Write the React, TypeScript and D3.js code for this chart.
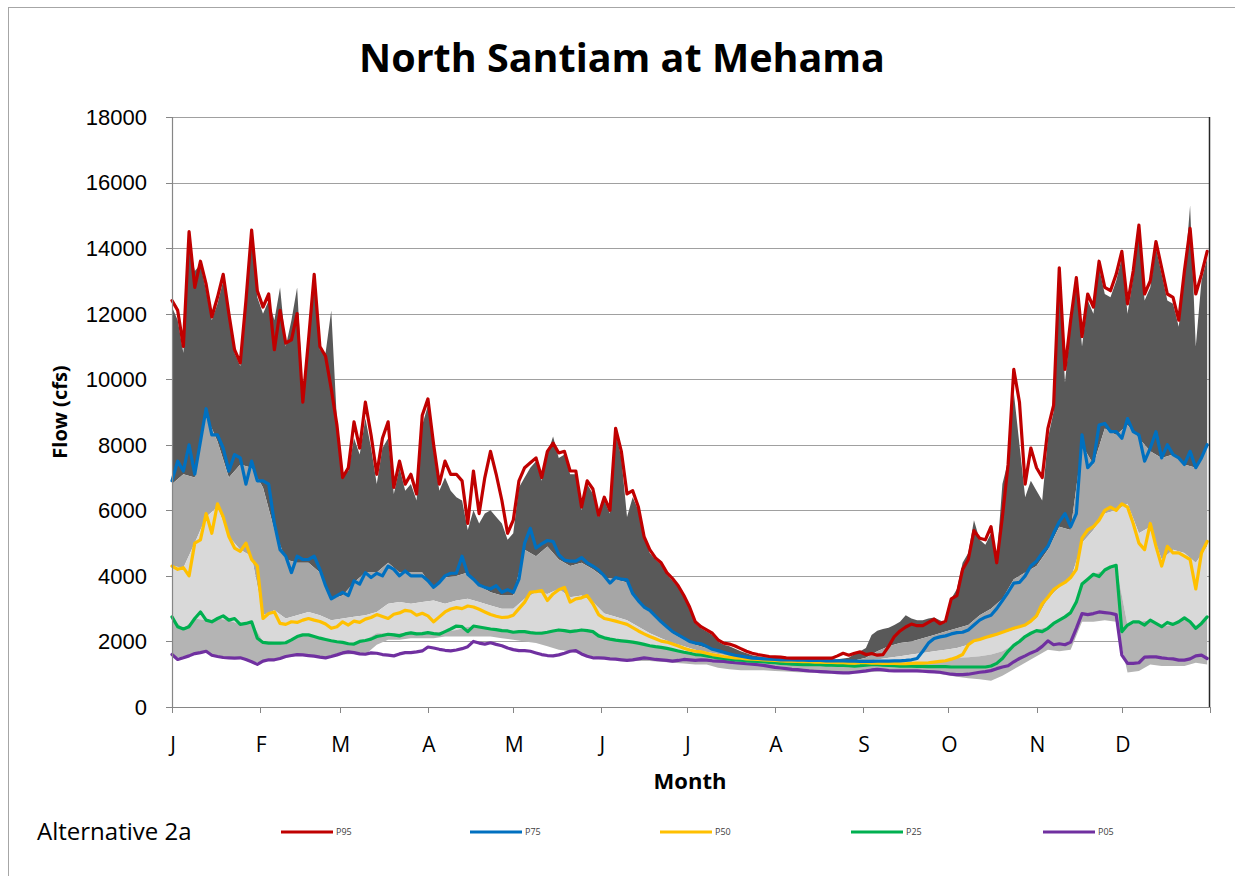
import React from "react";
import * as d3 from "d3";

// ---------- data ----------
const MONTH_LABELS = ["J", "F", "M", "A", "M", "J", "J", "A", "S", "O", "N", "D"];
const MONTH_START_DAYS = [0, 31, 59, 90, 120, 151, 181, 212, 243, 273, 304, 334, 365];
const Y_TICKS = [0, 2000, 4000, 6000, 8000, 10000, 12000, 14000, 16000, 18000];

const LINE_STEP = 2; // days between points of the alternative's percentile lines
const BAND_STEP = 4; // days between points of the base bands (except the top one)

// Alternative 2a percentiles (cfs), every 2 days from day 0
const P95 = [
  12400, 12100, 11000, 14500, 12800, 13600, 12900, 11900, 12500, 13200, 12000, 10900, 10500, 12400, 14550, 12700, 12200, 12600, 10900, 12100, 11100, 11200, 12000, 9300, 11200, 13200, 11000, 10700, 9700, 8600, 7000,
  7300, 8700, 7900, 9300, 8300, 7100, 8200, 8700, 6700, 7500, 6800, 7100, 6500, 8900, 9400, 8000, 6800, 7500, 7100, 7100, 6900, 5600, 7200, 5900, 7000, 7800, 7100, 6300, 5300, 5700, 6900, 7300,
  7450, 7600, 7000, 7800, 8050, 7750, 7800, 7200, 7200, 6100, 6900, 6650, 5850, 6400, 6000, 8500, 7800, 6500, 6600, 6100, 5200, 4800, 4550, 4400, 4100, 3920, 3700, 3400, 3050, 2600,
  2450, 2350, 2250, 2050, 1950, 1920, 1860, 1780, 1700, 1640, 1600, 1570, 1540, 1530, 1520, 1500, 1490, 1490, 1490, 1490, 1490, 1490, 1490, 1490, 1560, 1640, 1580, 1640, 1680, 1600, 1630, 1580,
  1600, 1850, 2150, 2320, 2440, 2530, 2480, 2480, 2580, 2680, 2540, 2620, 3300, 3400, 4200, 4500, 5380, 5150, 5100, 5500, 4400, 5800, 7400, 10300, 9300, 6800, 7900, 7300, 7000,
  8500, 9200, 13400, 10300, 11800, 13100, 11300, 12600, 12200, 13600, 12800, 12700, 13200, 13900, 12300, 13300, 14700, 12600, 13000, 14200, 13400, 12600, 12500, 11800, 13300, 14600, 12600, 13200, 13900,
];
const P75 = [
  6900, 7500, 7200, 8000, 7100, 8100, 9100, 8300, 8300, 7900, 7200, 7700, 7600, 6800, 7500, 6900, 6900, 6800, 5600, 4800, 4600, 4100, 4600, 4500, 4500, 4600, 4200, 3700, 3300, 3400, 3500,
  3400, 3850, 3750, 4100, 3950, 4080, 4000, 4300, 4200, 4000, 4150, 4000, 4000, 4000, 3850, 3650, 3800, 4000, 4080, 4080, 4600, 4050, 3900, 3720, 3650, 3600, 3700, 3500, 3580, 3500, 3900, 5000,
  5450, 4850, 4980, 5080, 5050, 4650, 4480, 4450, 4450, 4560, 4400, 4300, 4180, 4000, 3780, 3950, 3900, 3880, 3460, 3240, 3050, 2950, 2770, 2600, 2450, 2300, 2200, 2100, 2000, 1950,
  1930, 1850, 1760, 1720, 1670, 1620, 1580, 1550, 1520, 1490, 1480, 1470, 1460, 1450, 1440, 1440, 1440, 1430, 1430, 1420, 1420, 1420, 1410, 1410, 1410, 1410, 1400, 1400, 1390, 1390, 1390, 1400,
  1400, 1400, 1410, 1410, 1420, 1440, 1480, 1700, 1950, 2090, 2140, 2170, 2230, 2270, 2280, 2350, 2500, 2650, 2740, 2800, 3000, 3250, 3500, 3780, 3800, 4000, 4300, 4450, 4700,
  4900, 5300, 5650, 5900, 5500, 5900, 8300, 7300, 7500, 8600, 8650, 8400, 8400, 8200, 8800, 8400, 8300, 7500, 7900, 8400, 7600, 8000, 7700, 7600, 7400, 7800, 7300, 7600, 8000,
];
const P50 = [
  4300, 4200, 4250, 4000, 5000, 5100, 5900, 5300, 6200, 5800, 5200, 4850, 4750, 5000, 4500, 4300, 2700, 2850, 2900, 2550, 2520, 2600, 2580, 2650, 2700, 2650, 2610, 2530, 2400, 2450, 2600,
  2500, 2620, 2580, 2680, 2730, 2820, 2760, 2700, 2830, 2870, 2950, 2920, 2800, 2860, 2780, 2600, 2750, 2900, 2990, 3030, 3000, 3080, 3050, 2980, 2900, 2820, 2770, 2730, 2740, 2800, 3000, 3200,
  3500, 3520, 3550, 3250, 3450, 3580, 3650, 3200, 3300, 3330, 3400, 3150, 2820, 2700, 2660, 2620, 2570, 2520, 2420, 2320, 2230, 2150, 2080, 2010, 1980, 1920, 1860, 1790, 1740, 1700,
  1680, 1640, 1600, 1570, 1540, 1520, 1500, 1490, 1470, 1460, 1450, 1440, 1430, 1420, 1410, 1400, 1400, 1390, 1380, 1380, 1370, 1370, 1360, 1360, 1350, 1350, 1340, 1340, 1350, 1350, 1340, 1340,
  1330, 1330, 1330, 1320, 1320, 1330, 1340, 1340, 1350, 1370, 1390, 1410, 1460, 1520, 1600, 1900, 2020, 2060, 2120, 2170, 2220, 2280, 2340, 2400, 2450, 2500, 2620, 2780, 3150,
  3350, 3580, 3700, 3800, 3950, 4200, 5150, 5400, 5500, 5700, 6000, 6100, 6000, 6200, 6100, 5600, 5000, 4800, 5600, 4900, 4300, 4900, 4700, 4700, 4600, 4500, 3600, 4700, 5050,
];
const P25 = [
  2750, 2450, 2380, 2450, 2700, 2900, 2650, 2600, 2700, 2780, 2650, 2700, 2520, 2550, 2600, 2100, 1970, 1950, 1950, 1950, 1960, 2050, 2150, 2200, 2200, 2150, 2100, 2060, 2020, 1990, 1970,
  1930, 1920, 2000, 2030, 2070, 2150, 2180, 2220, 2200, 2170, 2230, 2260, 2230, 2240, 2270, 2240, 2220, 2300, 2380, 2470, 2450, 2300, 2470, 2440, 2410, 2380, 2360, 2330, 2320, 2280, 2300, 2300,
  2270, 2250, 2250, 2280, 2320, 2350, 2330, 2300, 2320, 2350, 2330, 2300, 2170, 2110, 2070, 2040, 2020, 2000, 1980, 1950, 1910, 1870, 1840, 1820, 1790, 1750, 1710, 1670, 1640, 1600,
  1590, 1560, 1530, 1500, 1480, 1460, 1440, 1430, 1410, 1400, 1390, 1380, 1360, 1350, 1330, 1320, 1310, 1300, 1290, 1290, 1290, 1290, 1280, 1280, 1270, 1270, 1260, 1250, 1260, 1280, 1290, 1290,
  1280, 1270, 1260, 1250, 1250, 1250, 1240, 1240, 1230, 1230, 1230, 1230, 1220, 1220, 1220, 1220, 1220, 1220, 1220, 1250, 1330, 1480, 1700, 1880, 2000, 2150, 2250, 2330, 2300,
  2400, 2550, 2650, 2750, 2880, 3200, 3750, 3900, 4050, 3980, 4180, 4270, 4320, 2300, 2500, 2600, 2600, 2500, 2650, 2550, 2450, 2580, 2520, 2600, 2720, 2600, 2400, 2550, 2750,
];
const P05 = [
  1600, 1450, 1500, 1560, 1630, 1660, 1700, 1580, 1540, 1510, 1500, 1490, 1500, 1450, 1380, 1300, 1400, 1440, 1440, 1480, 1540, 1570, 1600, 1590, 1570, 1550, 1520, 1500, 1540, 1590, 1650,
  1680, 1660, 1620, 1610, 1650, 1640, 1600, 1580, 1560, 1620, 1660, 1660, 1680, 1710, 1830, 1800, 1760, 1730, 1710, 1740, 1780, 1840, 2000, 1950, 1920, 1960, 1910, 1870, 1800, 1750, 1720, 1720,
  1700, 1650, 1600, 1570, 1560, 1590, 1640, 1700, 1720, 1620, 1550, 1500, 1500, 1490, 1470, 1460, 1440, 1420, 1440, 1470, 1500, 1480, 1450, 1440, 1420, 1400, 1420, 1450, 1440, 1420,
  1440, 1430, 1410, 1400, 1390, 1370, 1350, 1340, 1320, 1310, 1290, 1270, 1240, 1210, 1190, 1170, 1150, 1140, 1120, 1100, 1090, 1080, 1070, 1060, 1050, 1040, 1040, 1060, 1080, 1100, 1130, 1150,
  1130, 1110, 1100, 1100, 1100, 1100, 1100, 1090, 1080, 1070, 1060, 1030, 1000, 990, 990, 1000, 1030, 1060, 1080, 1110, 1170, 1220, 1260, 1380, 1480, 1560, 1650, 1720, 1850,
  2020, 1900, 1930, 1900, 1980, 2400, 2850, 2820, 2850, 2900, 2880, 2860, 2820, 1580, 1330, 1330, 1350, 1520, 1530, 1530, 1500, 1480, 1470, 1430, 1430, 1470, 1560, 1580, 1480,
];

// Base case bands (gray), top edge every 2 days, others every 4 days
const BASE_P95 = [
  12200, 11800, 10800, 14200, 13300, 13500, 12700, 11800, 12300, 13000, 11900, 10800, 10400, 12200, 14300, 12500, 12000, 12400, 11800, 12800, 11000, 11800, 12800, 9600, 11000, 12900, 10900, 10800, 12100, 8700, 7100,
  7200, 8200, 7700, 8800, 7900, 6800, 7900, 8200, 6500, 7300, 6600, 6800, 6300, 8600, 9200, 7800, 6600, 7000, 6600, 6400, 6300, 5400, 6000, 5600, 5900, 6000, 5800, 5600, 5100, 5300, 6700, 7000,
  7300, 7500, 6900, 7700, 8250, 7600, 7700, 7100, 7100, 6000, 6800, 6500, 5800, 6300, 5900, 8400, 7600, 5800, 6400, 6000, 5200, 4700, 4500, 4350, 4050, 3850, 3650, 3350, 3000, 2550,
  2400, 2300, 2200, 2000, 1900, 1850, 1780, 1700, 1640, 1580, 1550, 1520, 1500, 1490, 1480, 1470, 1460, 1460, 1450, 1450, 1450, 1450, 1450, 1450, 1460, 1480, 1500, 1620, 1700, 1800, 2200, 2330,
  2380, 2420, 2500, 2600, 2800, 2700, 2650, 2650, 2700, 2730, 2650, 2560, 3300, 3600, 4400, 4700, 5700, 5100, 4950, 5300, 4500, 6800, 7500, 9600, 8000, 6400, 6900, 6600, 6300,
  8200, 9000, 13200, 9900, 11600, 12900, 11000, 12400, 12000, 13400, 12600, 12500, 13000, 13700, 12000, 13100, 14500, 12400, 12800, 14000, 13200, 12400, 12300, 11600, 13100, 15300, 11000, 13000, 13700,
];
const BASE_P75 = [
  6800, 7100, 7000, 8900, 8100, 7000, 7400, 7300, 6700, 5400, 4500, 4400, 4400, 4100, 3300, 3400,
  3800, 4100, 4100, 4400, 4100, 4100, 4100, 3600, 3950, 4000, 4100, 3700, 3500, 3400, 3400, 4800,
  4600, 4900, 4500, 4300, 4400, 4200, 3950, 3900, 3800, 3200, 2900, 2550, 2250, 2050, 1900,
  1800, 1700, 1600, 1550, 1500, 1480, 1460, 1450, 1440, 1430, 1420, 1420, 1410, 1420, 1500, 1700,
  1850, 1950, 2000, 2100, 2200, 2300, 2400, 2500, 2800, 3000, 3300, 3900, 4100, 4300,
  4800, 5500, 5400, 8000, 7400, 8500, 8300, 8600, 8200, 7800, 7600, 7700, 7400, 7300, 7900,
];
const BASE_P50 = [
  4300, 4250, 5000, 5800, 6100, 5200, 4800, 4600, 2800, 2950, 2700, 2800, 2900, 2800, 2650, 2700,
  2750, 2800, 2900, 3150, 3200, 3150, 3200, 3250, 3150, 3250, 3300, 3200, 3100, 3000, 3000, 3300,
  3500, 3450, 3600, 3350, 3400, 3200, 2850, 2750, 2650, 2450, 2250, 2100, 1950, 1850, 1750,
  1680, 1620, 1560, 1520, 1490, 1470, 1450, 1430, 1420, 1410, 1400, 1390, 1380, 1380, 1400, 1450,
  1500, 1550, 1600, 1650, 1700, 1750, 1800, 1900, 2050, 2150, 2250, 2350, 2500, 2700,
  3300, 3650, 3900, 5000, 5400, 5900, 6000, 6200, 5300, 5500, 4500, 4800, 4700, 4400, 4900,
];
const BASE_P25 = [
  2700, 2400, 2700, 2650, 2700, 2650, 2520, 2600, 2000, 1980, 1980, 2150, 2200, 2100, 2030, 2000,
  1950, 2050, 2250, 2250, 2250, 2280, 2280, 2280, 2300, 2350, 2450, 2450, 2420, 2380, 2330, 2300,
  2300, 2320, 2380, 2350, 2380, 2330, 2150, 2080, 2030, 1980, 1900, 1850, 1780, 1700, 1620,
  1560, 1500, 1460, 1430, 1400, 1380, 1350, 1320, 1300, 1290, 1290, 1280, 1270, 1260, 1300, 1300,
  1300, 1300, 1320, 1350, 1400, 1450, 1500, 1520, 1550, 1600, 1700, 1900, 2150, 2350,
  2450, 2650, 2900, 3750, 4050, 4180, 4300, 2500, 2600, 2650, 2450, 2520, 2720, 2450, 2700,
];
const BASE_P05 = [
  1550, 1480, 1600, 1660, 1520, 1480, 1480, 1350, 1380, 1420, 1500, 1570, 1550, 1500, 1520, 1600,
  1620, 1600, 1900, 2050, 2050, 2100, 2100, 2100, 2150, 2150, 2150, 2150, 2150, 2100, 2050, 2000,
  1950, 1850, 1750, 1700, 1600, 1550, 1480, 1450, 1420, 1400, 1400, 1380, 1350, 1330, 1300,
  1300, 1200, 1150, 1120, 1120, 1120, 1100, 1080, 1060, 1050, 1030, 1020, 1010, 1020, 1050, 1080,
  1080, 1080, 1070, 1060, 1040, 980, 920, 880, 850, 800, 950, 1150, 1350, 1550,
  1750, 1700, 1750, 2600, 2600, 2650, 2600, 1050, 1100, 1300, 1250, 1250, 1250, 1350, 1300,
];

const SERIES = [
  { name: "P95", values: P95, color: "#c00000" },
  { name: "P75", values: P75, color: "#0070c0" },
  { name: "P50", values: P50, color: "#ffc000" },
  { name: "P25", values: P25, color: "#00b050" },
  { name: "P05", values: P05, color: "#7030a0" },
];

const BANDS = [
  { upper: BASE_P95, upperStep: LINE_STEP, lower: BASE_P75, lowerStep: BAND_STEP, color: "#595959" },
  { upper: BASE_P75, upperStep: BAND_STEP, lower: BASE_P50, lowerStep: BAND_STEP, color: "#a6a6a6" },
  { upper: BASE_P50, upperStep: BAND_STEP, lower: BASE_P25, lowerStep: BAND_STEP, color: "#d9d9d9" },
  { upper: BASE_P25, upperStep: BAND_STEP, lower: BASE_P05, lowerStep: BAND_STEP, color: "#b4b4b4" },
];

const LEGEND_X = [281, 470, 660, 851, 1043];

// ---------- chart ----------
const SANS = "'Open Sans', 'Noto Sans', sans-serif";
const NUM = "'Liberation Sans', Arial, sans-serif";

type Pt = [number, number];

export default function App() {
  const W = 1235;
  const H = 876;
  const x = d3.scaleLinear().domain([0, 365]).range([172, 1210]);
  const y = d3.scaleLinear().domain([0, 18000]).range([707, 117]);

  const toPts = (vals: number[], step: number): Pt[] => vals.map((v, i) => [i * step, v] as Pt);
  const line = d3.line<Pt>().x((d) => x(d[0])).y((d) => y(d[1]));

  const bandPath = (upper: Pt[], lower: Pt[]) => {
    const up = line(upper) as string;
    const lo = line(lower.slice().reverse()) as string;
    return up + "L" + lo.slice(1) + "Z";
  };

  const [x0, x1] = x.range();
  const [yb, yt] = y.range();

  return (
    <svg
      width={W}
      height={H}
      style={{ position: "absolute", left: 0, top: 0, background: "#ffffff" }}
    >
      <rect x={0} y={0} width={W} height={H} fill="#ffffff" />
      {/* outer frame (top & left visible) */}
      <line x1={8} y1={7.5} x2={W} y2={7.5} stroke="#a6a6a6" strokeWidth={1} />
      <line x1={8.5} y1={7} x2={8.5} y2={H} stroke="#a6a6a6" strokeWidth={1} />

      {/* title */}
      <text x={622} y={72} textAnchor="middle" fontFamily={SANS} fontWeight={700} fontSize={39.5} fill="#000">
        North Santiam at Mehama
      </text>

      {/* gridlines */}
      {Y_TICKS.map((t) => (
        <line key={"g" + t} x1={x0} x2={x1} y1={Math.round(y(t)) + 0.5} y2={Math.round(y(t)) + 0.5} stroke="#a0a0a0" strokeWidth={1} />
      ))}

      {/* base bands */}
      {BANDS.map((b, i) => (
        <path
          key={"b" + i}
          d={bandPath(toPts(b.upper, b.upperStep), toPts(b.lower, b.lowerStep))}
          fill={b.color}
          stroke="none"
        />
      ))}

      {/* percentile lines (draw P05 first so P95 on top) */}
      {SERIES.slice().reverse().map((s) => (
        <path
          key={s.name}
          d={line(toPts(s.values, LINE_STEP)) as string}
          fill="none"
          stroke={s.color}
          strokeWidth={3.2}
          strokeLinejoin="round"
          strokeLinecap="round"
        />
      ))}

      {/* axes */}
      <line x1={x0 + 0.5} x2={x0 + 0.5} y1={yt} y2={yb} stroke="#868686" strokeWidth={1.2} />
      <line x1={x0} x2={x1} y1={yb + 0.5} y2={yb + 0.5} stroke="#868686" strokeWidth={1.2} />
      <line x1={x1 - 0.5} x2={x1 - 0.5} y1={yt} y2={yb} stroke="#262626" strokeWidth={1.5} />
      {Y_TICKS.map((t) => (
        <g key={"yt" + t}>
          <line x1={x0 - 6} x2={x0} y1={Math.round(y(t)) + 0.5} y2={Math.round(y(t)) + 0.5} stroke="#868686" strokeWidth={1} />
          <text x={147} y={y(t)} dy="0.36em" textAnchor="end" fontFamily={NUM} fontSize={22} fill="#000">
            {t}
          </text>
        </g>
      ))}
      {MONTH_START_DAYS.map((d, i) => (
        <line key={"xt" + i} x1={Math.round(x(d)) + 0.5} x2={Math.round(x(d)) + 0.5} y1={yb} y2={yb + 6} stroke="#868686" strokeWidth={1} />
      ))}
      {MONTH_LABELS.map((m, i) => (
        <text key={"xl" + i} x={x(MONTH_START_DAYS[i]) + 1} y={752} textAnchor="middle" fontFamily={SANS} fontSize={21} fill="#000">
          {m}
        </text>
      ))}

      {/* axis titles */}
      <text x={690} y={789} textAnchor="middle" fontFamily={SANS} fontWeight={700} fontSize={22} fill="#000">
        Month
      </text>
      <text
        transform={`translate(67, ${412}) rotate(-90)`}
        textAnchor="middle"
        fontFamily={SANS}
        fontWeight={700}
        fontSize={20}
        fill="#000"
      >
        Flow (cfs)
      </text>

      {/* legend */}
      <text x={37} y={840} fontFamily={SANS} fontSize={24} fill="#000">
        Alternative 2a
      </text>
      {SERIES.map((s, i) => (
        <g key={"lg" + s.name}>
          <line x1={LEGEND_X[i]} x2={LEGEND_X[i] + 52} y1={832} y2={832} stroke={s.color} strokeWidth={3} />
          <text x={LEGEND_X[i] + 55} y={835} fontFamily={SANS} fontSize={9} fill="#404040">
            {s.name}
          </text>
        </g>
      ))}
    </svg>
  );
}
